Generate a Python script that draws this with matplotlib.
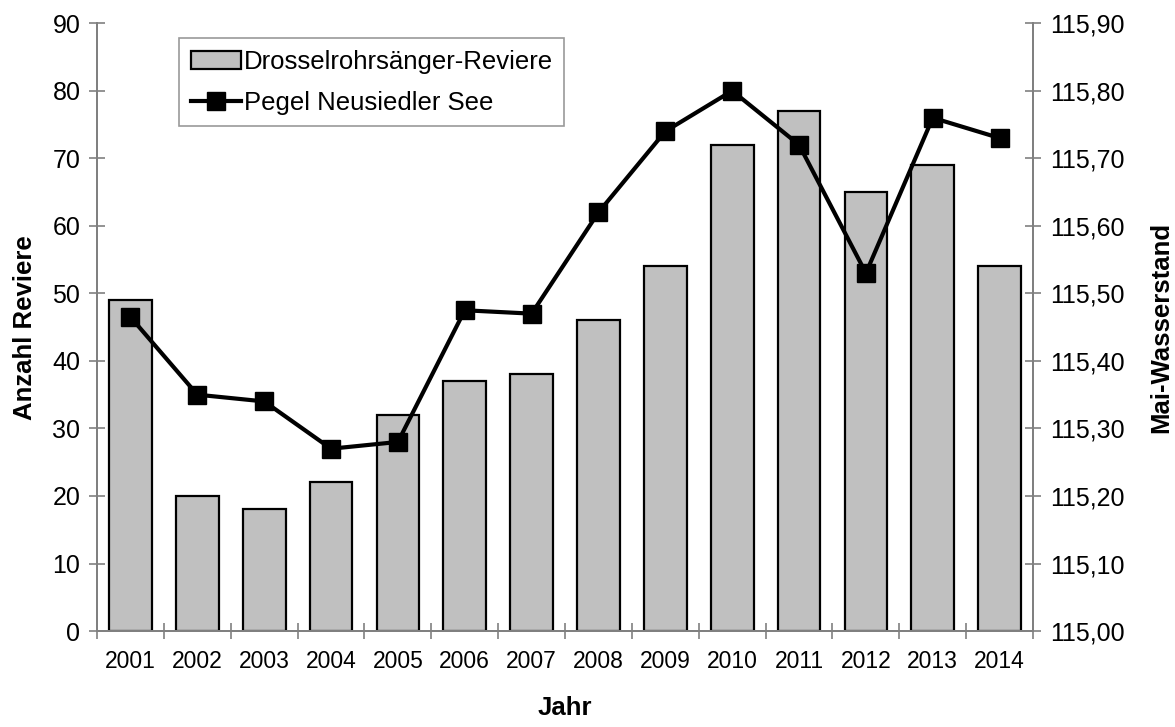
import matplotlib

matplotlib.use("Agg")
import matplotlib.pyplot as plt
import numpy as np
from matplotlib.ticker import FixedLocator, FuncFormatter

plt.rcParams["font.family"] = ["Liberation Sans", "DejaVu Sans"]

jahre = [str(j) for j in range(2001, 2015)]
reviere = [49, 20, 18, 22, 32, 37, 38, 46, 54, 72, 77, 65, 69, 54]
pegel = [115.465, 115.35, 115.34, 115.27, 115.28, 115.475, 115.47,
         115.62, 115.74, 115.80, 115.72, 115.53, 115.76, 115.73]

achse = "#808080"

fig = plt.figure(figsize=(11.75, 7.27), dpi=100)
ax = fig.add_axes([0.0826, 0.132, 0.7966, 0.836])
ax2 = ax.twinx()

x = np.arange(len(jahre))
bars = ax.bar(x, reviere, width=0.64, color="#c0c0c0", edgecolor="black",
              linewidth=1.6, label="Drosselrohrsänger-Reviere", zorder=2)
line, = ax2.plot(x, pegel, color="black", lw=3, marker="s", markersize=13,
                 label="Pegel Neusiedler See", zorder=3)

ax.set_xlim(-0.5, len(jahre) - 0.5)
ax.set_ylim(0, 90)
ax.set_yticks(range(0, 91, 10))
ax2.set_ylim(115.0, 115.9)
ax2.set_yticks(np.round(np.arange(115.0, 115.91, 0.1), 2))
ax2.yaxis.set_major_formatter(FuncFormatter(lambda v, p: f"{v:.2f}".replace(".", ",")))

# Jahreszahlen mittig, Teilstriche zwischen den Kategorien
ax.set_xticks(x)
ax.set_xticklabels(jahre)
ax.xaxis.set_minor_locator(FixedLocator(np.arange(-0.5, len(jahre), 1.0)))
ax.tick_params(axis="x", which="major", length=0, pad=14, labelsize=16.5)
ax.tick_params(axis="x", which="minor", direction="inout", length=12, color=achse, width=1.2)
ax.tick_params(axis="y", direction="inout", length=12, color=achse, width=1.2, labelsize=18, pad=6)
ax2.tick_params(axis="y", direction="inout", length=12, color=achse, width=1.2, labelsize=18, pad=6)

for a in (ax, ax2):
    a.spines["top"].set_visible(False)
    for s in ("left", "right", "bottom"):
        a.spines[s].set_color(achse)
        a.spines[s].set_linewidth(1.4)

ax.set_xlabel("Jahr", fontsize=18.5, fontweight="bold", labelpad=16)
ax.set_ylabel("Anzahl Reviere", fontsize=18.5, fontweight="bold", labelpad=11)
ax2.set_ylabel("Mai-Wasserstand", fontsize=18.5, fontweight="bold", labelpad=18)

ax.set_zorder(ax2.get_zorder() - 1)
ax.patch.set_visible(False)
ax2.patch.set_visible(False)

leg = ax2.legend([bars, line], [bars.get_label(), line.get_label()],
                 loc="upper left", bbox_to_anchor=(0.088, 0.975), fontsize=18.5,
                 frameon=True, fancybox=False, edgecolor=achse, handlelength=1.95,
                 handletextpad=0.1, borderpad=0.45, labelspacing=0.65,
                 borderaxespad=0)
leg.get_frame().set_linewidth(1.2)

fig.savefig("out.png", dpi=100, facecolor="white")
